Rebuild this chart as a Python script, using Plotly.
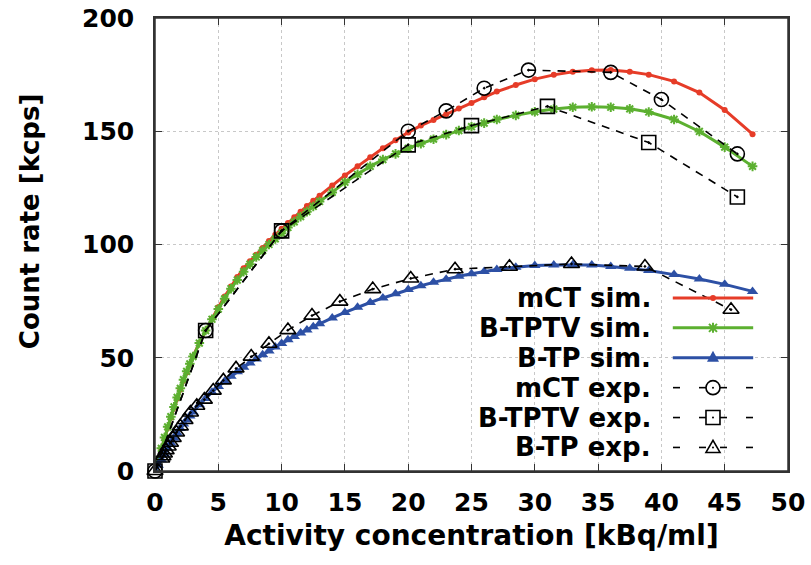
import plotly.graph_objects as go

# simulated count rates, common activity sampling
activity_sim = [0, 0.25, 0.5, 0.75, 1, 1.25, 1.5, 1.75, 2, 2.25, 2.5, 2.75, 3, 3.5, 4, 4.5,
                5, 5.5, 6, 6.5, 7, 7.5, 8, 8.5, 9, 9.5, 10, 10.5, 11, 11.5, 12, 12.5, 13,
                14, 15, 16, 17, 18, 19, 20, 21, 22, 23, 24, 25, 26, 27, 28.5, 30, 31.5, 33,
                34.5, 36, 37.5, 39, 41, 43, 45, 47.2]
mct_sim = [0, 5, 9.8, 14.5, 19, 23.5, 27.8, 32, 36, 39.8, 43.5, 47, 50.5, 56.5, 62, 67.3,
           72.3, 77, 81.5, 85.6, 89.5, 92.6, 95.5, 98.5, 101.5, 104.3, 107, 109.5, 112, 114.5,
           117, 119.3, 121.5, 126, 130.5, 134.5, 138.5, 142.5, 146, 149.5, 152.5, 155, 157.5,
           160, 162.5, 165, 167.5, 170.4, 173, 174.9, 176.3, 176.9, 177, 176.3, 175, 172,
           167.1, 159.4, 148.7]
btptv_sim = [0, 5, 10, 14.8, 19.5, 24, 28.3, 32.5, 36.5, 40.3, 44, 47.3, 50.5, 56.5, 62, 67,
             71.5, 76, 80.5, 84.3, 88, 91.3, 94.5, 97.3, 100, 102.5, 105, 107.5, 110, 112.3,
             114.5, 116.8, 119, 123, 127.5, 131, 134.5, 137.5, 140, 142.5, 144.5, 146.5, 148.5,
             150.3, 152, 153.6, 155.2, 157, 158.6, 159.8, 160.6, 160.8, 160.6, 159.9, 158.5,
             155.2, 149.9, 143, 134.5]
btp_sim = [0, 2.5, 5, 7.5, 10, 12.3, 14.5, 16.7, 18.8, 20.7, 22.5, 24.3, 26, 29.2, 32, 34.8,
           37.3, 39.6, 41.8, 43.8, 45.8, 47.7, 49.5, 51.3, 53, 54.7, 56.3, 57.9, 59.4, 60.9,
           62.3, 63.7, 65, 67.6, 70, 72.3, 74.4, 76.4, 78.3, 80.1, 81.8, 83.3, 84.7, 86, 87.1,
           88.1, 89, 90, 90.7, 91, 91.1, 90.9, 90.3, 89.5, 88.5, 86.7, 84.8, 82.4, 79.3]

# measured count rates
mct_exp_x = [0, 4, 10, 20, 23, 26, 29.5, 36, 40, 46]
mct_exp_y = [0, 62, 106, 150, 159, 169, 177, 176, 164, 140]
btptv_exp_x = [0, 4, 10, 20, 25, 31, 39, 46]
btptv_exp_y = [0, 62, 106, 144, 152.5, 161, 145, 121]
btp_exp_x = [0, 0.53, 0.63, 0.74, 0.88, 1.04, 1.22, 1.44, 1.7, 2.0, 2.37, 2.8, 3.3, 3.9, 4.6,
             5.4, 6.4, 7.6, 9.0, 10.5, 12.4, 14.6, 17.2, 20.2, 23.7, 28.0, 32.9, 38.7, 45.5]
btp_exp_y = [0, 5.5, 6.5, 7.7, 9.2, 10.8, 12.5, 14.6, 17, 19.7, 22.5, 25.8, 28.8, 31.5, 35.5,
             40, 45.3, 50.5, 56.2, 62.2, 68.6, 74.8, 80.3, 85, 89.1, 90.2, 91.4, 90.3, 71.2]

series_names = ["mCT sim.", "B-TPTV sim.", "B-TP sim.", "mCT exp.", "B-TPTV exp.", "B-TP exp."]

RED = "#e63c28"
GREEN = "#5cb030"
BLUE = "#2d50a5"
FONT = "DejaVu Sans"

fig = go.Figure()

sims = [
    (mct_sim, RED, dict(symbol="circle", size=6, color=RED)),
    (btptv_sim, GREEN, dict(symbol="asterisk", size=8, color=GREEN, line=dict(color=GREEN, width=2))),
    (btp_sim, BLUE, dict(symbol="triangle-up", size=10, color=BLUE)),
]
for name, (ys, col, mk) in zip(series_names[:3], sims):
    fig.add_trace(go.Scatter(x=activity_sim, y=ys, name=name, mode="lines+markers",
                             line=dict(color=col, width=3), marker=mk, showlegend=False))

exps = [
    (mct_exp_x, mct_exp_y, "circle-open-dot"),
    (btptv_exp_x, btptv_exp_y, "square-open-dot"),
    (btp_exp_x, btp_exp_y, "triangle-up-open-dot"),
]
for name, (xs, ys, sym) in zip(series_names[3:], exps):
    fig.add_trace(go.Scatter(x=xs, y=ys, name=name, mode="lines+markers", cliponaxis=False,
                             line=dict(color="black", width=1.6, dash="8px,7px"),
                             marker=dict(symbol=sym, size=14, color="black",
                                         line=dict(color="black", width=1.6)),
                             showlegend=False))

# hand-drawn legend: right-aligned labels, sample to the right
row_y = [0.382, 0.316, 0.250, 0.184, 0.118, 0.052]
text_x = 0.787
line_x0, line_x1 = 0.818, 0.945
cx = (line_x0 + line_x1) / 2
shapes = []
annotations = []


def px_shape(kind, x0, y0, x1, y1, yc, **kw):
    return dict(type=kind, xref="paper", yref="paper", xsizemode="pixel", ysizemode="pixel",
                xanchor=cx, yanchor=yc, x0=x0, x1=x1, y0=y0, y1=y1, layer="above", **kw)


for i, (name, yc) in enumerate(zip(series_names, row_y)):
    annotations.append(dict(text=name, x=text_x, y=yc, xref="paper", yref="paper",
                            xanchor="right", yanchor="middle", showarrow=False,
                            font=dict(family=FONT, size=26, color="black", weight="bold")))
    if i < 3:
        col = [RED, GREEN, BLUE][i]
        shapes.append(dict(type="line", xref="paper", yref="paper", x0=line_x0, x1=line_x1,
                           y0=yc, y1=yc, line=dict(color=col, width=3), layer="above"))
        if i == 0:
            shapes.append(px_shape("circle", -3, -3, 3, 3, yc, fillcolor=RED, line=dict(width=0)))
        elif i == 1:
            shapes.append(dict(type="path", xref="paper", yref="paper", xsizemode="pixel",
                               ysizemode="pixel", xanchor=cx, yanchor=yc, layer="above",
                               path="M-5,0 L5,0 M0,-5 L0,5 M-4,-4 L4,4 M-4,4 L4,-4",
                               line=dict(color=GREEN, width=2)))
        else:
            shapes.append(dict(type="path", xref="paper", yref="paper", xsizemode="pixel",
                               ysizemode="pixel", xanchor=cx, yanchor=yc, layer="above",
                               path="M-6,-4 L6,-4 L0,7 Z", fillcolor=BLUE, line=dict(width=0)))
    else:
        for a, b in [(-40, -33), (-14, -7), (7, 14), (33, 40)]:
            shapes.append(px_shape("line", a, 0, b, 0, yc, line=dict(color="black", width=1.6)))
        if i == 3:
            shapes.append(px_shape("circle", -7, -7, 7, 7, yc, line=dict(color="black", width=1.6)))
        elif i == 4:
            shapes.append(px_shape("rect", -7, -7, 7, 7, yc, line=dict(color="black", width=1.6)))
        else:
            shapes.append(dict(type="path", xref="paper", yref="paper", xsizemode="pixel",
                               ysizemode="pixel", xanchor=cx, yanchor=yc, layer="above",
                               path="M-7,-5 L7,-5 L0,7 Z", line=dict(color="black", width=1.6)))
        shapes.append(px_shape("circle", -1, -1, 1, 1, yc, fillcolor="black", line=dict(width=0)))

# plot frame (the top edge was not showing from the mirrored axis alone)
shapes.append(dict(type="rect", xref="paper", yref="paper", x0=0, x1=1, y0=0, y1=1,
                   line=dict(color="#333", width=1.5), layer="above"))

# y-axis title sits a little above the plot centre in the original
annotations.append(dict(text="Count rate [kcps]", x=-0.197, y=0.55, xref="paper", yref="paper",
                        textangle=-90, showarrow=False, xanchor="center", yanchor="middle",
                        font=dict(family=FONT, size=26, color="black", weight="bold")))

axis_common = dict(
    showline=True, linecolor="#333", linewidth=1.5, mirror="allticks",
    ticks="inside", ticklen=7, tickwidth=1.2, tickcolor="#333",
    showgrid=True, gridcolor="#c8c8c8", griddash="dot", gridwidth=1,
    zeroline=False, automargin=False, ticklabeloverflow="allow",
    tickfont=dict(family=FONT, size=25, color="black", weight="bold"),
)

fig.update_layout(
    width=811, height=565,
    margin=dict(l=155, r=23, t=18, b=94),
    plot_bgcolor="white", paper_bgcolor="white",
    font=dict(family=FONT, color="black"),
    xaxis=dict(range=[0, 50], tickvals=list(range(0, 51, 5)), ticklabelstandoff=8,
               title=dict(text="Activity concentration [kBq/ml]", standoff=10,
                          font=dict(family=FONT, size=28, color="black", weight="bold")),
               **axis_common),
    yaxis=dict(range=[0, 200], tickvals=list(range(0, 201, 50)), ticklabelstandoff=14,
               **axis_common),
    shapes=shapes,
    annotations=annotations,
)

# drop the default body margin so the 811x565 figure fills the window exactly
fig.write_html("out.html", config={"displayModeBar": False},
               post_script="document.body.style.margin='0';")
